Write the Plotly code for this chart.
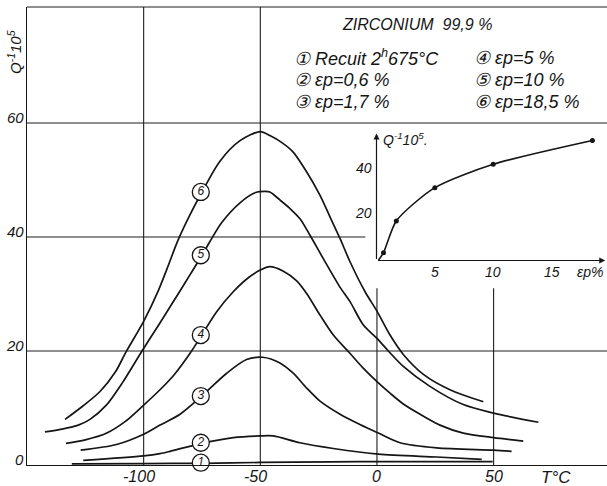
import plotly.graph_objects as go

# ---------------- data ----------------
x6 = [-133.7, -125.9, -118.7, -112, -107.6, -100, -93.7, -90, -85.3, -80, -75, -67.3, -58.7, -50,
      -45.9, -40.9, -35.9, -30.1, -24.4, -20.1, -15.8, -11.6, -5.1, 0, 5.6, 11.3, 19.9, 31.3, 45.6]
y6 = [8.0, 10.4, 12.9, 16.4, 19.8, 25.2, 30.6, 34.4, 39.4, 44.0, 47.9, 53.3, 56.9, 58.5,
      57.8, 56.6, 54.9, 51.4, 47.3, 43.5, 39.7, 35.7, 30.4, 27.0, 22.8, 19.4, 15.9, 13.2, 11.1]

x5 = [-142.3, -135, -128, -123, -116, -109, -100.7, -93.5, -88, -83.7, -80.1, -75, -71.6, -66.6,
      -58.7, -52, -48, -45.9, -41.6, -37.3, -33, -28.7, -23, -16, -11.6, -5.9, 0, 4.9, 11.3, 22.7,
      37, 50, 69.2]
y5 = [5.8, 6.3, 7.0, 8.0, 10.5, 14.5, 20.0, 24.6, 28.2, 31.0, 33.4, 36.8, 39.2, 42.5,
      46.0, 47.8, 48.0, 47.9, 46.5, 45.0, 43.2, 40.3, 36.2, 31.3, 28.7, 24.6, 22.2, 20.0, 17.3, 13.8,
      10.6, 9.1, 7.5]

x4 = [-133.3, -125, -115.8, -108, -100.8, -93, -87, -80.1, -75.1, -68.7, -61.6, -55, -50, -46,
      -40.1, -34.4, -30, -24.4, -18.7, -11.6, -5.9, 0.6, 5.6, 11, 18.5, 27, 37, 50, 62.7]
y4 = [3.8, 4.4, 5.6, 7.6, 10.2, 13.2, 15.8, 19.6, 22.8, 26.9, 30.4, 32.9, 34.2, 34.8,
      34.0, 32.3, 30.0, 26.3, 22.8, 19.6, 17.0, 14.4, 12.6, 10.8, 8.9, 7.0, 5.6, 4.8, 4.2]

x3 = [-127, -111.6, -100, -93, -84.4, -75.1, -64.4, -55.9, -49, -41.6, -35.9, -30.1, -24.4,
      -15.8, -7.3, 0.6, 9.9, 25.6, 50, 57.7]
y3 = [2.6, 3.6, 5.4, 7.0, 8.9, 12.1, 16.1, 18.5, 18.9, 17.9, 16.1, 13.5, 11.2,
      8.9, 7.1, 5.6, 3.9, 3.0, 2.6, 2.4]

x2 = [-125.9, -100, -93, -88.7, -75.1, -61.6, -50, -44.4, -33, -18.7, 0.6, 25.6, 44.9]
y2 = [0.8, 1.6, 2.0, 2.4, 3.8, 4.8, 5.1, 5.1, 3.9, 2.9, 1.9, 1.4, 1.0]

x1 = [-130.8, -100, -75, -50, -20, 0, 49.6]
y1 = [0.2, 0.25, 0.3, 0.45, 0.55, 0.6, 0.6]

curve_labels = ["6", "5", "4", "3", "2", "1"]
label_x = [-75.5, -75.5, -75.5, -75.5, -75.5, -75.5]
label_y = [47.9, 36.8, 22.8, 12.1, 3.9, 0.4]

# inset: internal friction vs strain
inset_eps = [0.6, 1.7, 5, 10, 18.5]
inset_q = [3.5, 17.6, 32.4, 42.8, 53.4]

x_ticks = [-100, -50, 0, 50]
x_tick_text = ["-100", "-50", "0", "50"]
y_ticks = [0, 20, 40, 60]
y_tick_text = ["0", "20", "40", "60"]
inset_x_ticks = [5, 10, 15]
inset_y_ticks = [20, 40]

legend_left = ["① Recuit 2<sup>h</sup>675°C", "② εp=0,6 %", "③ εp=1,7 %"]
legend_right = ["④ εp=5 %", "⑤ εp=10 %", "⑥ εp=18,5 %"]

# ---------------- figure ----------------
INK = "#151515"
FONT = "Liberation Sans"
W, H = 607, 486
ML, MR, MT, MB = 27, 0, 7, 21
XR = [-150, 98.6]
YR = [0, 80.35]


def px(xp):
    return (xp - ML) / (W - ML - MR)


def py(yp):
    return (H - MB - yp) / (H - MT - MB)


def f(size):
    return dict(family=FONT, size=size, color=INK, style="italic")


fig = go.Figure()
for xs, ys in [(x6, y6), (x5, y5), (x4, y4), (x3, y3), (x2, y2), (x1, y1)]:
    fig.add_trace(go.Scatter(x=xs, y=ys, mode="lines", line=dict(color=INK, width=1.7, shape="spline", smoothing=0.8),
                             hoverinfo="skip", showlegend=False, cliponaxis=False))

fig.add_trace(go.Scatter(x=label_x, y=label_y, mode="markers+text", text=curve_labels,
                         textposition="middle center", textfont=f(12),
                         marker=dict(size=17, color="white", line=dict(color=INK, width=1.3)),
                         showlegend=False, hoverinfo="skip", cliponaxis=False))

# inset curve
fig.add_trace(go.Scatter(x=[0.15] + inset_eps, y=[0] + inset_q, mode="lines", xaxis="x2", yaxis="y2",
                         line=dict(color=INK, width=1.6, shape="spline", smoothing=0.7),
                         showlegend=False, hoverinfo="skip", cliponaxis=False))
fig.add_trace(go.Scatter(x=inset_eps, y=inset_q, mode="markers", xaxis="x2", yaxis="y2",
                         marker=dict(size=5, color=INK), showlegend=False, hoverinfo="skip", cliponaxis=False))

# grid / frame shapes
shapes = []
gl = dict(color="#1e1e1e", width=1.1)
for gx in [-100, -50]:
    shapes.append(dict(type="line", xref="x", yref="y", x0=gx, x1=gx, y0=YR[0], y1=YR[1], line=gl, layer="below"))
for gx in [0, 50]:
    shapes.append(dict(type="line", xref="x", yref="y", x0=gx, x1=gx, y0=0, y1=31, line=gl, layer="below"))
for gy in [20, 60]:
    shapes.append(dict(type="line", xref="x", yref="y", x0=XR[0], x1=XR[1], y0=gy, y1=gy, line=gl, layer="below"))
shapes.append(dict(type="line", xref="x", yref="y", x0=XR[0], x1=-5, y0=40, y1=40, line=gl, layer="below"))
shapes.append(dict(type="line", xref="paper", yref="paper", x0=0, x1=1, y0=1, y1=1, line=gl))
for t in inset_y_ticks:
    shapes.append(dict(type="line", xref="x2", yref="y2", x0=-0.3, x1=0, y0=t, y1=t, line=dict(color=INK, width=1)))

ann = []
for v, t in zip(x_ticks, x_tick_text):
    ann.append(dict(x=v, y=0, xref="x", yref="paper", text=t, showarrow=False, xanchor="center", yanchor="top",
                    yshift=-1, xshift=(-5 if v < 0 else 0), font=f(16)))
for v, t in zip(y_ticks, y_tick_text):
    ann.append(dict(x=0, y=v, xref="paper", yref="y", text=t, showarrow=False, xanchor="right", yanchor="middle",
                    xshift=-1, yshift=6, font=f(15)))
ann.append(dict(x=px(556), y=py(477), xref="paper", yref="paper", text="T°C", showarrow=False,
                xanchor="center", yanchor="middle", font=f(17)))
ann.append(dict(x=px(15), y=py(52), xref="paper", yref="paper",
                text="Q<sup>-1</sup>10<sup>5</sup>", textangle=-90, showarrow=False,
                xanchor="center", yanchor="middle", font=f(15)))

# legend box texts
ann.append(dict(x=px(417), y=py(25), xref="paper", yref="paper", text="ZIRCONIUM  99,9 %", showarrow=False,
                xanchor="center", yanchor="middle", font=f(16)))
for i, t in enumerate(legend_left):
    ann.append(dict(x=px(292), y=py(58 + 22 * i), xref="paper", yref="paper", text=t, showarrow=False,
                    xanchor="left", yanchor="middle", font=f(18)))
for i, t in enumerate(legend_right):
    ann.append(dict(x=px(472), y=py(58 + 22 * i), xref="paper", yref="paper", text=t, showarrow=False,
                    xanchor="left", yanchor="middle", font=f(18)))

# inset axes arrows and labels
ann.append(dict(x=19.6, y=0, ax=0, ay=0, xref="x2", yref="y2", axref="x2", ayref="y2", text="", showarrow=True,
                arrowhead=2, arrowsize=1, arrowwidth=1.2, arrowcolor=INK))
ann.append(dict(x=0, y=56.5, ax=0, ay=0, xref="x2", yref="y2", axref="x2", ayref="y2", text="", showarrow=True,
                arrowhead=2, arrowsize=1, arrowwidth=1.2, arrowcolor=INK))
for v in inset_x_ticks:
    ann.append(dict(x=v, y=0, xref="x2", yref="y2", text=str(v), showarrow=False, xanchor="center", yanchor="top",
                    yshift=-1, font=f(14)))
ann.append(dict(x=17.0, y=0, xref="x2", yref="y2", text="εp%", showarrow=False, yanchor="top", yshift=-1,
                xanchor="left", font=f(14)))
for v in inset_y_ticks:
    ann.append(dict(x=0, y=v, xref="x2", yref="y2", text=str(v), showarrow=False, xanchor="right", xshift=-3,
                    yanchor="middle", yshift=3, font=f(14)))
ann.append(dict(x=0.35, y=55.0, xref="x2", yref="y2", text="Q<sup>-1</sup>10<sup>5</sup>.", showarrow=False,
                xanchor="left", yanchor="middle", yshift=-2, font=f(14)))

fig.update_layout(
    width=W, height=H, margin=dict(l=ML, r=MR, t=MT, b=MB),
    paper_bgcolor="white", plot_bgcolor="white",
    xaxis=dict(range=XR, showgrid=False, zeroline=False, showticklabels=False, ticks="",
               showline=True, linecolor=INK, linewidth=1.3),
    yaxis=dict(range=YR, showgrid=False, zeroline=False, showticklabels=False, ticks="",
               showline=True, linecolor=INK, linewidth=1.3),
    xaxis2=dict(domain=[px(376.5), 1.0], range=[0, (W - 376.5) / 11.67], anchor="y2", showgrid=False,
                zeroline=False, showticklabels=False, ticks="", showline=False),
    yaxis2=dict(domain=[py(260.5), py(133)], range=[0, 56.7], anchor="x2", showgrid=False,
                zeroline=False, showticklabels=False, ticks="", showline=False),
    shapes=shapes, annotations=ann, showlegend=False,
)

fig.write_html("out.html", config={"displayModeBar": False},
               post_script="document.body.style.margin='0';document.body.style.overflow='hidden';")
